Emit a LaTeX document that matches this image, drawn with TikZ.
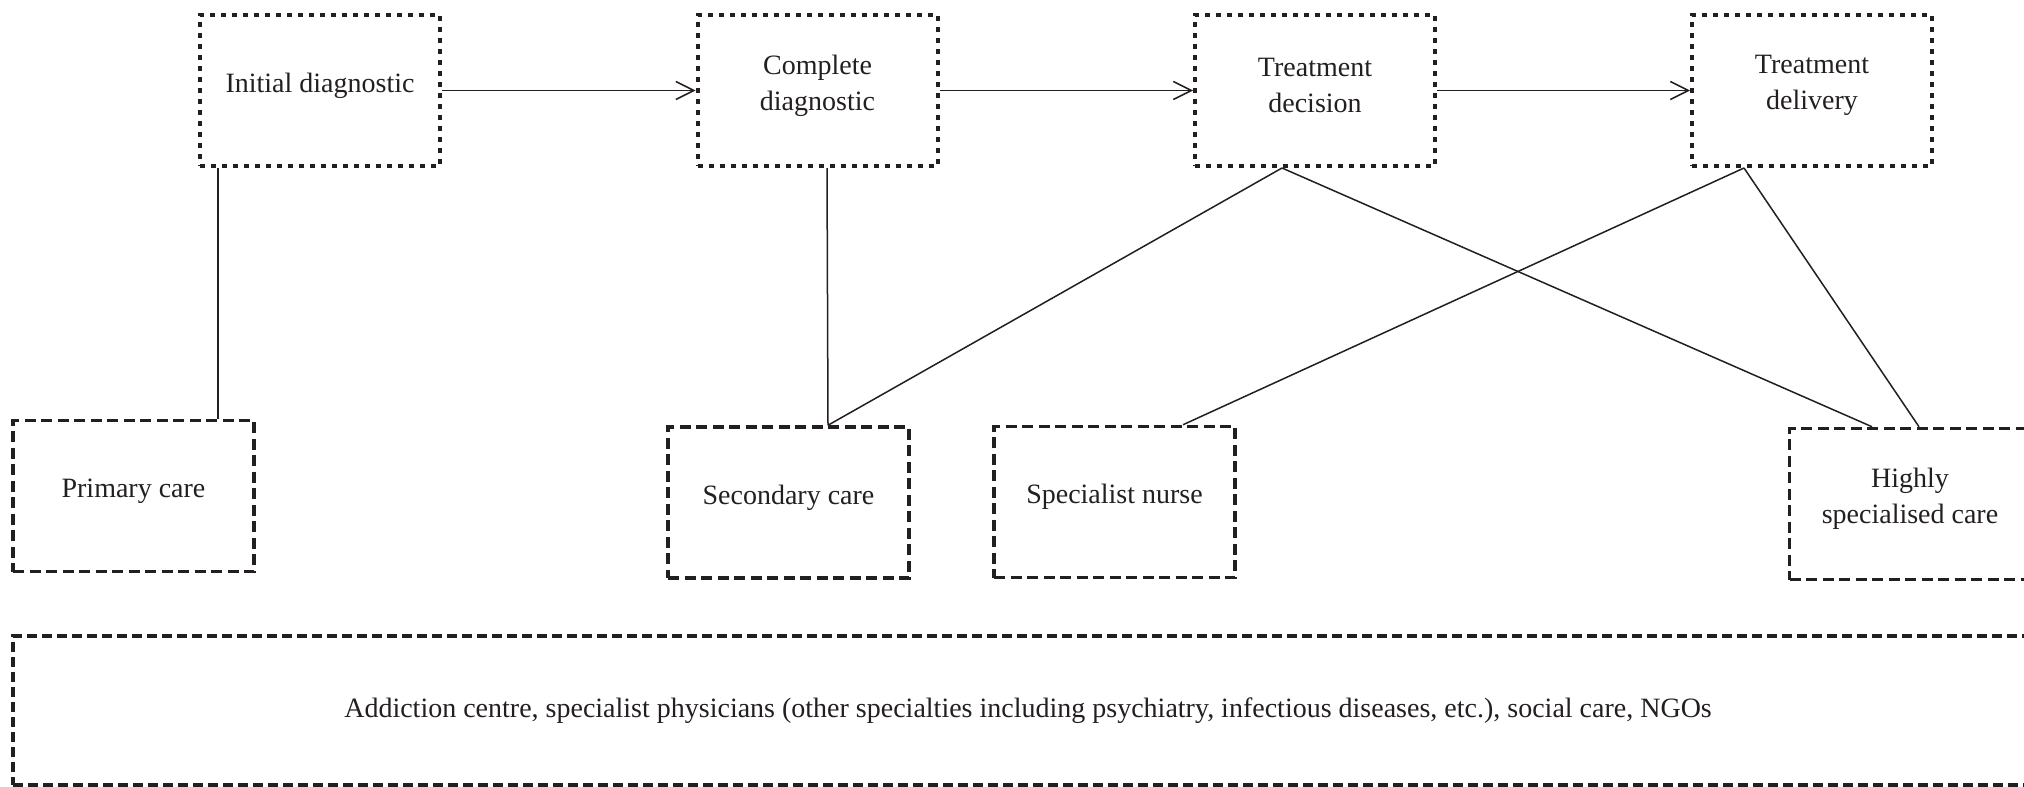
\documentclass[tikz,border=0pt]{standalone}
\usepackage{fontspec}
\setmainfont{Liberation Serif}
\usetikzlibrary{arrows.meta}
\definecolor{ink}{RGB}{35,31,32}
\begin{document}
\begin{tikzpicture}[x=1pt,y=-1pt,
  every node/.style={font=\fontsize{28}{36}\selectfont, text=ink, align=center, inner sep=0pt},
  tx/.style={label={[yshift=5pt]center:{#1}}},
  topbox/.style={draw=ink, line width=4pt, dash pattern=on 5pt off 6pt, minimum width=240pt, minimum height=151pt},
  lowbox/.style={draw=ink, line width=3.5pt, dash pattern=on 11pt off 5.5pt, minimum width=241pt, minimum height=151pt},
  link/.style={draw=ink, line width=1.5pt},
  flow/.style={link, -{Straight Barb[length=18pt,width=18pt,line width=1.5pt]}}]
\useasboundingbox (0,0) rectangle (2024,787);
% top row
\node[topbox, tx={Initial diagnostic}] (init) at (320,90.5) {};
\node[topbox, tx={Complete\\diagnostic}] (comp) at (817.5,90.5) {};
\node[topbox, tx={Treatment\\decision}] (td) at (1315,90.5) {};
\node[topbox, tx={Treatment\\delivery}] (tdel) at (1812,90.5) {};
% lower row
\node[lowbox, tx={Primary care}] (prim) at (133.5,496) {};
\node[lowbox, tx={Secondary care}] (sec) at (788.5,502.5) {};
\node[lowbox, tx={Specialist nurse}] (nurse) at (1114.5,502) {};
\node[lowbox, tx={Highly\\specialised care}] (high) at (1910,504) {};
\node[lowbox, dash pattern=on 10pt off 5pt, minimum width=2030pt, minimum height=149pt] (other) at (1028,710.5) {Addiction centre, specialist physicians (other specialties including psychiatry, infectious diseases, etc.), social care, NGOs};
% flow arrows
\draw[flow] (init.east) -- (comp.west);
\draw[flow] (comp.east) -- (td.west);
\draw[flow] (td.east) -- (tdel.west);
% links
\draw[link] ([xshift=-102pt]init.south) -- ([xshift=84.5pt]prim.north);
\draw[link] ([xshift=9.5pt]comp.south) -- ([xshift=39.5pt]sec.north);
\draw[link] ([xshift=-33pt]td.south) -- ([xshift=39.5pt]sec.north);
\draw[link] ([xshift=-33pt]td.south) -- ([xshift=-38pt]high.north);
\draw[link] ([xshift=-68pt]tdel.south) -- ([xshift=68.5pt]nurse.north);
\draw[link] ([xshift=-68pt]tdel.south) -- ([xshift=9pt]high.north);
\end{tikzpicture}
\end{document}
